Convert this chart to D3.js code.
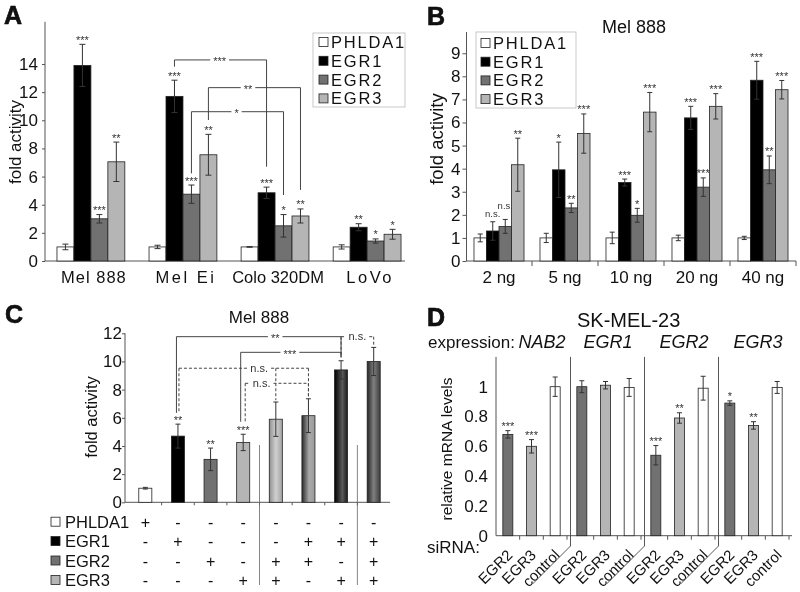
<!DOCTYPE html>
<html><head><meta charset="utf-8">
<script src="https://cdn.jsdelivr.net/npm/d3@7"></script>
<style>body{margin:0;background:#fff}svg{display:block;filter:grayscale(1)}</style>
</head><body><svg id="c" width="800" height="592"></svg>
<script>
// ---------- data ----------
const seriesNames = ["PHLDA1","EGR1","EGR2","EGR3"];

// Panel A
const aCells = ["Mel 888","Mel Ei","Colo 320DM","LoVo"];
const aMeans = [[1,13.9,3.0,7.05],[1,11.7,4.75,7.55],[1,4.85,2.5,3.2],[1,2.4,1.42,1.9]];
const aErrs  = [[0.2,1.5,0.3,1.4],[0.12,1.15,0.65,1.45],[0.02,0.4,0.8,0.5],[0.15,0.25,0.15,0.35]];
const aStars = [["","***","***","**"],["","***","***","**"],["","***","*","**"],["","**","*","*"]];
const aTicks = [0,2,4,6,8,10,12,14];
const aBrackets = [
  {from:["Mel Ei","EGR1"], to:["Colo 320DM","EGR1"], level:14.29, drop1:13.81, drop2:6.7, label:"***", at:0.49},
  {from:["Mel Ei","EGR3"], to:["Colo 320DM","EGR3"], level:12.32, drop1:10.02, drop2:5.05, label:"**", at:0.43},
  {from:["Mel Ei","EGR2"], to:["Colo 320DM","EGR2"], level:10.61, drop1:6.23, drop2:4.69, label:"*", at:0.49}
];

// Panel B
const bDoses = ["2 ng","5 ng","10 ng","20 ng","40 ng"];
const bMeans = [[1,1.3,1.5,4.17],[1,3.95,2.3,5.52],[1,3.4,1.98,6.45],[1,6.2,3.2,6.7],[1,7.83,3.95,7.42]];
const bErrs  = [[0.17,0.4,0.3,1.15],[0.2,1.2,0.2,0.85],[0.25,0.15,0.3,0.85],[0.12,0.5,0.4,0.55],[0.07,0.82,0.6,0.4]];
const bStars = [["","n.s.","n.s.","**"],["","*","**","***"],["","***","*","***"],["","***","***","***"],["","***","**","***"]];
const bTicks = [0,1,2,3,4,5,6,7,8,9];

// Panel C
const cConds = ["PHLDA1","EGR1","EGR2","EGR3","EGR2+EGR3","EGR1+EGR2","EGR1+EGR3","EGR1+EGR2+EGR3"];
const cMeans = [1,4.7,3.05,4.25,5.9,6.15,9.4,10.0];
const cErrs  = [0.06,0.85,0.8,0.58,1.22,1.2,0.65,1.0];
const cStars = ["","**","**","***","","","",""];
const cTicks = [0,2,4,6,8,10,12];
const cMatrix = {
  PHLDA1:["+","-","-","-","-","-","-","-"],
  EGR1:  ["-","+","-","-","-","+","+","+"],
  EGR2:  ["-","-","+","-","+","+","-","+"],
  EGR3:  ["-","-","-","+","+","-","+","+"]
};
const cBrackets = [
  {from:1,to:6,level:11.76,drop1:6.35,drop2:10.3,label:"**",at:0.6,dashed:false,off:-1.5},
  {from:3,to:6,level:10.65,drop1:5.72,drop2:10.3,label:"***",at:0.49,dashed:false,off:-2.5},
  {from:6,to:7,level:11.76,drop1:10.3,drop2:11.05,label:"n.s.",at:0.5,dashed:true,off:0},
  {from:1,to:5,level:9.52,drop1:6.35,drop2:7.4,label:"n.s.",at:0.62,dashed:true,off:1,mid:[4,7.25]},
  {from:3,to:5,level:8.45,drop1:5.72,drop2:7.4,label:"n.s.",at:0.26,dashed:true,off:2}
];

// Panel D
const dGenes = ["NAB2","EGR1","EGR2","EGR3"];
const dSiRNA = ["EGR2","EGR3","control"];
const dMeans = [[0.68,0.6,1.0],[1.0,1.01,0.995],[0.54,0.79,0.99],[0.89,0.74,0.995]];
const dErrs  = [[0.025,0.045,0.065],[0.04,0.025,0.06],[0.065,0.035,0.08],[0.015,0.025,0.04]];
const dStars = [["***","***",""],["","",""],["***","**",""],["*","**",""]];
const dTicks = [0,0.2,0.4,0.6,0.8,1];

// ---------- styles ----------
const FONT = '"Liberation Sans", Arial, Helvetica, sans-serif';
const fills = {PHLDA1:"#ffffff", EGR1:"#000000", EGR2:"#707174", EGR3:"#b4b5b9", control:"#ffffff"};
const INK = "#222";

const svg = d3.select("#c").attr("font-family", FONT);
svg.append("rect").attr("width",800).attr("height",592).attr("fill","#fff");
const defs = svg.append("defs");
function grad(id, stops){
  const lg = defs.append("linearGradient").attr("id",id).attr("x1","0%").attr("x2","100%").attr("y1","0%").attr("y2","0%");
  stops.forEach(s=>lg.append("stop").attr("offset",s[0]).attr("stop-color",s[1]));
}
grad("g5",[[0,"#8e8f92"],[0.5,"#cfd0d2"],[1,"#a2a3a6"]]);
grad("g6",[[0,"#2a2a2a"],[0.55,"#a9a9a9"],[1,"#9a9a9a"]]);
grad("g7",[[0,"#000"],[0.6,"#5a5a5a"],[1,"#1a1a1a"]]);
grad("g8",[[0,"#262626"],[0.5,"#808080"],[1,"#3c3c3c"]]);
const cFills = ["#ffffff","#000000","#707174","#b4b5b9","url(#g5)","url(#g6)","url(#g7)","url(#g8)"];

function text(g,x,y,t,fs,opts={}){
  const el = g.append("text").attr("x",x).attr("y",y).attr("font-size",fs).attr("fill",opts.fill||"#111").text(t);
  if(opts.anchor) el.attr("text-anchor",opts.anchor);
  if(opts.ls) el.attr("letter-spacing",opts.ls);
  if(opts.weight) el.attr("font-weight",opts.weight);
  if(opts.style) el.attr("font-style",opts.style);
  if(opts.rotate!==undefined) el.attr("transform",`rotate(${opts.rotate},${x},${y})`);
  return el;
}
function yAxis(g,y,ticks,x0,top,fs,ts,pad,fmt){
  const ax = d3.axisLeft(y).tickValues(ticks).tickSize(ts).tickPadding(pad);
  if(fmt) ax.tickFormat(fmt);
  const a = g.append("g").attr("transform",`translate(${x0},0)`).call(ax);
  a.select(".domain").remove();
  a.selectAll("text").attr("font-size",fs).attr("fill","#111").attr("font-family",FONT);
  a.selectAll("line").attr("stroke","#555");
  g.append("line").attr("x1",x0).attr("x2",x0).attr("y1",y(0)).attr("y2",top).attr("stroke","#555");
}
function hline(g,x1,x2,y){ g.append("line").attr("x1",x1).attr("x2",x2).attr("y1",y).attr("y2",y).attr("stroke","#555"); }
function bar(g,cx,w,y,m,e,fill,star,cap,lift){
  g.append("rect").attr("x",cx-w/2).attr("y",y(m)).attr("width",w).attr("height",y(0)-y(m))
    .attr("fill",fill).attr("stroke",INK).attr("stroke-width",0.8);
  if(e>0){
    const t=y(m+e), b=y(m-e);
    g.append("line").attr("x1",cx).attr("x2",cx).attr("y1",t).attr("y2",b).attr("stroke","#333").attr("stroke-width",1);
    [t,b].forEach(v=>g.append("line").attr("x1",cx-cap/2).attr("x2",cx+cap/2).attr("y1",v).attr("y2",v).attr("stroke","#333").attr("stroke-width",1));
  }
  if(star){
    const ns = star==="n.s.";
    text(g,cx,y(m+e)-(ns?5:0.5)-(lift||0),star,ns?9.5:11,{anchor:"middle",fill:"#333"});
  }
}
function bracket(g,x1,x2,yl,yd1,yd2,label,at,dashed,mids){
  const st = l=>{ l.attr("stroke","#444").attr("stroke-width",1); if(dashed) l.attr("stroke-dasharray","3,2"); return l; };
  st(g.append("line").attr("x1",x1).attr("x2",x1).attr("y1",yl).attr("y2",yd1));
  st(g.append("line").attr("x1",x2).attr("x2",x2).attr("y1",yl).attr("y2",yd2));
  (mids||[]).forEach(m=>st(g.append("line").attr("x1",m[0]).attr("x2",m[0]).attr("y1",yl).attr("y2",m[1])));
  const lx = x1+(x2-x1)*at;
  const ns = label==="n.s.";
  const t = text(g,lx,yl+(ns?3.5:5.5),label,ns?11:11,{anchor:"middle",fill:"#333"});
  const half = t.node().getComputedTextLength()/2+3;
  st(g.append("line").attr("x1",x1).attr("x2",lx-half).attr("y1",yl).attr("y2",yl));
  st(g.append("line").attr("x1",lx+half).attr("x2",x2).attr("y1",yl).attr("y2",yl));
}
function legend(g,x,y0,step,box){
  if(box) g.append("rect").attr("x",box[0]).attr("y",box[1]).attr("width",box[2]).attr("height",box[3]).attr("fill","#fff").attr("stroke","#bbb").attr("stroke-width",0.8);
  seriesNames.forEach((s,i)=>{
    const cy=y0+i*step;
    g.append("rect").attr("x",x).attr("y",cy-4.5).attr("width",9).attr("height",9).attr("fill",fills[s]).attr("stroke",INK).attr("stroke-width",0.8);
    text(g,x+12,cy+6,s,16.5,{ls:1.8});
  });
}

// ---------- Panel A ----------
{
  const g = svg.append("g");
  text(g,4,24,"A",25,{weight:"bold"}).attr("stroke","#000").attr("stroke-width",0.6);
  const x = d3.scaleBand().domain(aCells).range([45,413]).paddingInner(0.263).paddingOuter(0.13);
  const xi = d3.scaleBand().domain(seriesNames).range([0,x.bandwidth()]);
  const y = d3.scaleLinear().domain([0,17]).range([261,21.8]);
  yAxis(g,y,aTicks,45,y(17),17,3,4);
  hline(g,45,405,y(0));
  const cxOf=(c,s)=>x(c)+xi(s)+xi.bandwidth()/2;
  aCells.forEach((c,i)=>seriesNames.forEach((s,j)=>bar(g,cxOf(c,s),xi.bandwidth(),y,aMeans[i][j],aErrs[i][j],fills[s],aStars[i][j],6)));
  const ls=[1,2.5,0,2.5];
  aCells.forEach((c,i)=>text(g,x(c)+x.bandwidth()/2+3,283,c,16.5,{anchor:"middle",ls:ls[i]}));
  text(g,21,142,"fold activity",17,{anchor:"middle",rotate:-90});
  aBrackets.forEach(b=>bracket(g,cxOf(...b.from),cxOf(...b.to),y(b.level),y(b.drop1),y(b.drop2),b.label,b.at,false));
  legend(g,319,42,18.8,[313,33,92,74]);
}

// ---------- Panel B ----------
{
  const g = svg.append("g");
  text(g,427,25,"B",25,{weight:"bold"}).attr("stroke","#000").attr("stroke-width",0.6);
  text(g,602,33,"Mel 888",18);
  const x = d3.scaleBand().domain(bDoses).range([466,796]).paddingInner(0.242).paddingOuter(0.121);
  const xi = d3.scaleBand().domain(seriesNames).range([0,x.bandwidth()]);
  const y = d3.scaleLinear().domain([0,9.92]).range([261,32]);
  yAxis(g,y,bTicks,466.5,32,17,4,2);
  hline(g,466.5,796,y(0));
  bDoses.forEach((d,i)=>{
    g.append("line").attr("x1",x(d)+x.step()*(1-0.121)).attr("x2",x(d)+x.step()*(1-0.121)).attr("y1",y(0)).attr("y2",y(0)+5).attr("stroke","#555");
    seriesNames.forEach((s,j)=>{
      const lift = (bStars[i][j]==="n.s." && j>0 && bStars[i][j-1]==="n.s.") ? 5 : 0;
      bar(g,x(d)+xi(s)+xi.bandwidth()/2,xi.bandwidth(),y,bMeans[i][j],bErrs[i][j],fills[s],bStars[i][j],5,lift);
    });
    text(g,x(d)+x.bandwidth()/2,283,d,17,{anchor:"middle"});
  });
  text(g,443,139,"fold activity",18.5,{anchor:"middle",rotate:-90});
  legend(g,481,43,18.7,[476,32,100,76]);
}

// ---------- Panel C ----------
{
  const g = svg.append("g");
  text(g,5,323,"C",25,{weight:"bold"}).attr("stroke","#000").attr("stroke-width",0.6);
  text(g,259,323,"Mel 888",17,{anchor:"middle"});
  const x = d3.scaleBand().domain(cConds).range([129,390]).paddingInner(0.6).paddingOuter(0.3);
  const y = d3.scaleLinear().domain([0,12]).range([502.3,333.3]);
  yAxis(g,y,cTicks,125,333.3,17,3,0);
  hline(g,125,390,y(0));
  const step = x.step();
  for(let k=1;k<=7;k++){ const tx=129+k*step; g.append("line").attr("x1",tx).attr("x2",tx).attr("y1",y(0)).attr("y2",y(0)+3).attr("stroke","#555"); }
  const cx = i=>x(cConds[i])+x.bandwidth()/2;
  cConds.forEach((c,i)=>bar(g,cx(i),x.bandwidth(),y,cMeans[i],cErrs[i],cFills[i],cStars[i],5));
  cBrackets.forEach(b=>bracket(g,cx(b.from)+b.off,cx(b.to),y(b.level),y(b.drop1),y(b.drop2),b.label,b.at,b.dashed,
    b.mid?[[cx(b.mid[0]),y(b.mid[1])]]:null));
  text(g,97,417,"fold activity",16.5,{anchor:"middle",rotate:-90});
  [4,7].forEach(k=>{ const sx=129+k*step; g.append("line").attr("x1",sx).attr("x2",sx).attr("y1",445).attr("y2",585).attr("stroke","#666").attr("stroke-width",0.8); });
  seriesNames.forEach((s,r)=>{
    const cy = 521.7+r*19.4;
    g.append("rect").attr("x",51).attr("y",cy-4.5).attr("width",9).attr("height",9).attr("fill",fills[s]).attr("stroke",INK).attr("stroke-width",0.8);
    text(g,65,cy+6,s,16.5);
    cMatrix[s].forEach((v,i)=>text(g,cx(i),cy+6,v,16,{anchor:"middle"}));
  });
}

// ---------- Panel D ----------
{
  const g = svg.append("g");
  text(g,427,326,"D",25,{weight:"bold"}).attr("stroke","#000").attr("stroke-width",0.6);
  text(g,577,327,"SK-MEL-23",20);
  const x = d3.scaleBand().domain(dGenes).range([496,792]);
  const xi = d3.scaleBand().domain(dSiRNA).range([0,71]);
  const y = d3.scaleLinear().domain([0,1.2]).range([535.7,356.9]);
  yAxis(g,y,dTicks,496,356.9,17,0,8,d=>d===0||d===1?String(d):d3.format(".1f")(d));
  hline(g,496,792,y(0));
  text(g,428,348,"expression:",17);
  const gOff=[9,1,3,3];
  dGenes.forEach((ge,i)=>{
    text(g,x(ge)+x.bandwidth()/2+gOff[i],348,ge,18,{anchor:"middle",style:"italic"});
    [1,2,3].forEach(k=>{ const tx=x(ge)+xi.step()*k; g.append("line").attr("x1",tx).attr("x2",tx).attr("y1",y(0)).attr("y2",y(0)+4).attr("stroke","#555"); });
    dSiRNA.forEach((s,j)=>{
      const cx = x(ge)+xi(s)+xi.bandwidth()/2;
      bar(g,cx,10,y,dMeans[i][j],dErrs[i][j],fills[s],dStars[i][j],5);
      text(g,cx+5.5,556,s,15,{anchor:"end",rotate:-45});
    });
    if(i>0){
      const sx = x(ge)+0.5;
      g.append("path").attr("d",`M${sx},${y(1.2)}V546L${sx-38},584`).attr("fill","none").attr("stroke","#444").attr("stroke-width",0.9);
    }
  });
  text(g,452,449,"relative mRNA levels",15.5,{anchor:"middle",rotate:-90});
  text(g,427,553,"siRNA:",17);
}
</script></body></html>
